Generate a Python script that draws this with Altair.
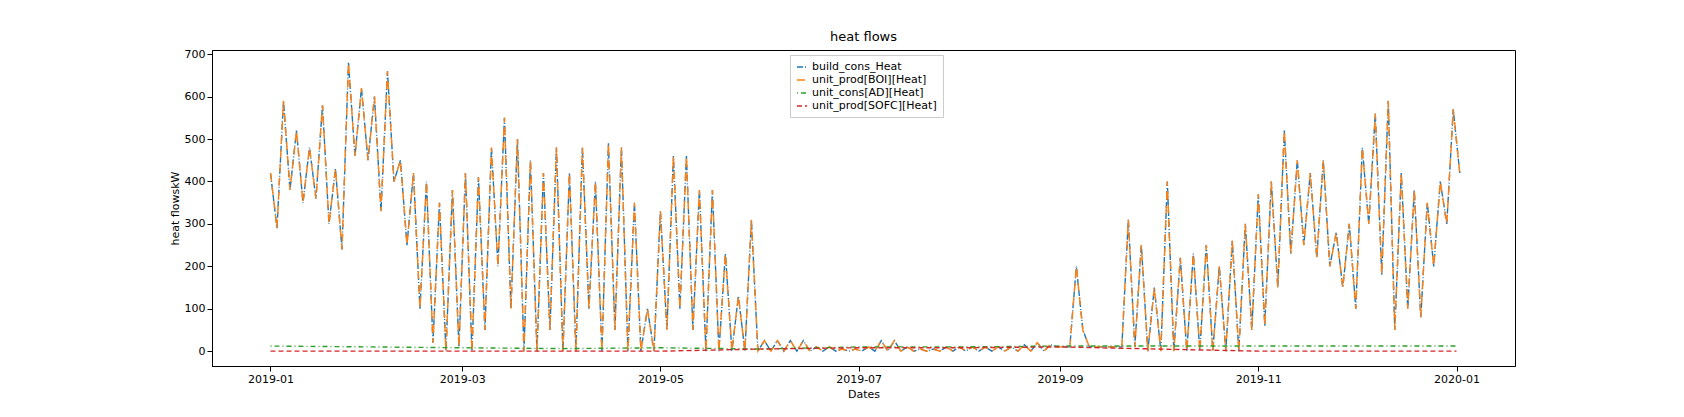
import altair as alt
import pandas as pd

# 4-day chunks starting 2019-01-01: envelope peak / trough
heat_hi = [420, 590, 520, 480, 580, 430, 680, 620,
           600, 660, 450, 420, 400, 350, 380,
           420, 410, 480, 550, 500, 450, 420, 480,
           420, 480, 400, 490, 480, 350, 100,
           330, 460, 460, 380, 380, 230, 130, 310,
           25, 25, 25, 25, 10, 10, 5,
           5, 10, 25, 25, 10, 5, 5, 10,
           10, 10, 10, 10, 10, 15, 20, 15,
           10, 200, 10, 10, 10, 310, 250,
           150, 400, 220, 230, 250, 200, 260, 300,
           370, 400, 520, 450, 420, 450, 280, 300,
           480, 560, 590, 420, 380, 350, 400, 570]
heat_lo = [290, 380, 350, 360, 300, 240, 460, 450,
           330, 400, 250, 100, 20, 0, 10,
           0, 50, 200, 100, 0, 0, 50, 0,
           0, 100, 0, 50, 0, 0, 0,
           50, 100, 50, 0, 0, 0, 0, 0,
           0, 0, 0, 0, 0, 0, 0,
           0, 0, 0, 0, 0, 0, 0, 0,
           0, 0, 0, 0, 0, 0, 0, 10,
           10, 50, 10, 10, 10, 10, 0,
           0, 0, 0, 0, 0, 0, 0, 50,
           60, 150, 230, 250, 220, 200, 150, 100,
           300, 180, 50, 100, 80, 200, 300, 420]
# monthly levels
months = pd.date_range("2019-01-01", "2020-01-01", freq="MS")
ad_heat = [12, 10, 8, 6, 8, 5, 10, 10, 12, 12, 12, 12, 12]
sofc_heat = [0, 0, 0, 0, 0, 5, 8, 8, 10, 5, 0, 0, 0]

series = ["build_cons_Heat", "unit_prod[BOI][Heat]",
          "unit_cons[AD][Heat]", "unit_prod[SOFC][Heat]"]
colors = ["#1f77b4", "#ff7f0e", "#2ca02c", "#d62728"]
dashes = [[6, 2, 1, 2], [8, 6], [1, 3, 5, 3], [5, 3]]

rows = []
start = pd.Timestamp("2019-01-01")
for name in series[:2]:
    for k, (hi, lo) in enumerate(zip(heat_hi, heat_lo)):
        d = start + pd.Timedelta(days=4 * k)
        rows.append({"Dates": d, "value": hi, "series": name})
        rows.append({"Dates": d + pd.Timedelta(days=2), "value": lo, "series": name})
for name, vals in [(series[2], ad_heat), (series[3], sofc_heat)]:
    for d, v in zip(months, vals):
        rows.append({"Dates": d, "value": v, "series": name})
df = pd.DataFrame(rows)

chart = alt.Chart(df).mark_line(strokeWidth=1.4).encode(
    x=alt.X("Dates:T", title="Dates",
            scale=alt.Scale(domain=["2018-12-14", "2020-01-19"]),
            axis=alt.Axis(format="%Y-%m", tickCount={"interval": "month", "step": 2},
                          grid=False)),
    y=alt.Y("value:Q", title="heat flowskW",
            scale=alt.Scale(domain=[-35, 710], nice=False),
            axis=alt.Axis(values=list(range(0, 701, 100)), grid=False)),
    color=alt.Color("series:N", sort=series, title=None,
                    scale=alt.Scale(domain=series, range=colors),
                    legend=alt.Legend(orient="none", legendX=578, legendY=5,
                                      symbolType="stroke", fillColor="white",
                                      strokeColor="#cccccc", padding=6,
                                      labelFontSize=11)),
    strokeDash=alt.StrokeDash("series:N", sort=series, title=None,
                              scale=alt.Scale(domain=series, range=dashes)),
    detail="series:N",
).properties(
    width=1303, height=316,
    title=alt.TitleParams("heat flows", fontSize=13, fontWeight="normal"),
    autosize=alt.AutoSizeParams(type="none"),
    padding={"left": 204, "top": 42, "right": 10, "bottom": 40},
).configure_view(stroke="black").configure_axis(
    domainColor="black", tickColor="black", labelColor="black", titleColor="black",
    labelFont="DejaVu Sans", titleFont="DejaVu Sans", labelFontSize=11,
    titleFontSize=11, titleFontWeight="normal"
).configure_title(font="DejaVu Sans").configure_legend(labelFont="DejaVu Sans")

chart.save("out.html", embed_options={"renderer": "svg", "actions": False})
